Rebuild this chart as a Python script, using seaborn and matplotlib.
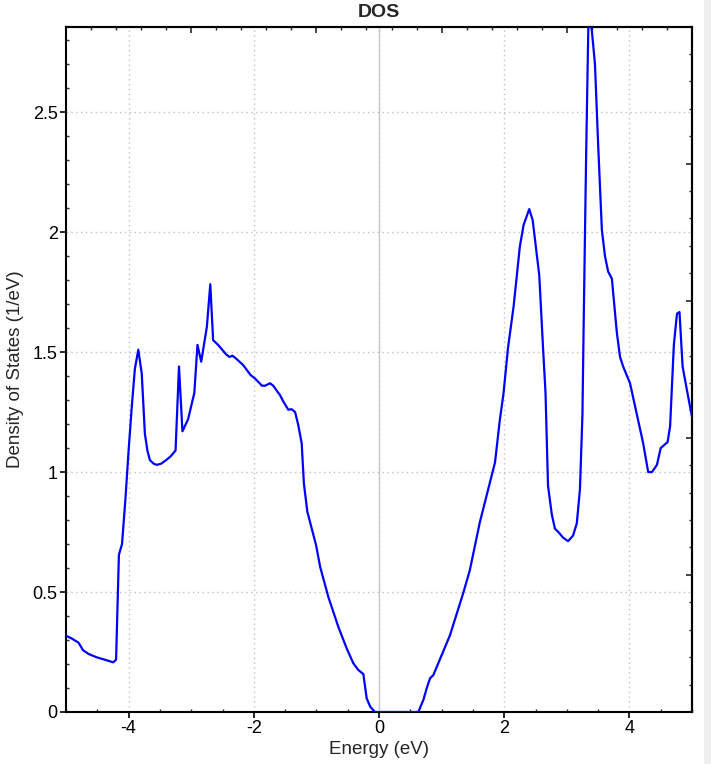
import numpy as np
import pandas as pd
import matplotlib
matplotlib.use("Agg")
import matplotlib.pyplot as plt
from matplotlib.ticker import MultipleLocator, NullFormatter
from matplotlib.patches import Rectangle
import seaborn as sns

# ---- data ----
energy = [-5.00, -4.90, -4.80, -4.76, -4.73, -4.64, -4.51, -4.38, -4.245, -4.20,
          -4.155, -4.105, -4.05, -4.00, -3.95, -3.90, -3.845, -3.79, -3.74, -3.70,
          -3.66, -3.60, -3.55, -3.48, -3.40, -3.33, -3.25, -3.195, -3.14, -3.05,
          -2.95, -2.90, -2.84, -2.75, -2.695, -2.65, -2.57, -2.44, -2.39, -2.34,
          -2.27, -2.17, -2.05, -1.98, -1.87, -1.82, -1.74, -1.69, -1.58, -1.53,
          -1.45, -1.395, -1.34, -1.29, -1.235, -1.20, -1.145, -1.06, -1.006, -0.94,
          -0.81, -0.65, -0.516, -0.41, -0.33, -0.25, -0.197, -0.14, -0.065, 0.628,
          0.708, 0.762, 0.815, 0.868, 1.134, 1.347, 1.45, 1.61, 1.746, 1.853,
          1.93, 1.99, 2.06, 2.15, 2.25, 2.31, 2.40, 2.455, 2.56, 2.62,
          2.66, 2.70, 2.76, 2.81, 2.865, 2.94, 3.02, 3.10, 3.16, 3.21,
          3.25, 3.27, 3.31, 3.345, 3.37, 3.40, 3.45, 3.50, 3.56, 3.61,
          3.66, 3.72, 3.80, 3.85, 3.90, 4.01, 4.12, 4.22, 4.30, 4.36,
          4.44, 4.50, 4.61, 4.65, 4.71, 4.76, 4.80, 4.85, 4.92, 5.00]
dos = [0.318, 0.305, 0.289, 0.272, 0.258, 0.242, 0.228, 0.218, 0.207, 0.218,
       0.655, 0.70, 0.89, 1.09, 1.27, 1.43, 1.51, 1.41, 1.16, 1.09,
       1.05, 1.035, 1.03, 1.035, 1.05, 1.065, 1.09, 1.44, 1.17, 1.22,
       1.33, 1.53, 1.46, 1.605, 1.783, 1.55, 1.53, 1.49, 1.48, 1.485,
       1.47, 1.446, 1.404, 1.39, 1.36, 1.36, 1.37, 1.36, 1.32, 1.295,
       1.26, 1.262, 1.25, 1.196, 1.12, 0.953, 0.835, 0.75, 0.696, 0.605,
       0.48, 0.355, 0.265, 0.203, 0.175, 0.158, 0.057, 0.022, 0.0, 0.0,
       0.05, 0.099, 0.14, 0.154, 0.32, 0.497, 0.59, 0.79, 0.93, 1.04,
       1.217, 1.33, 1.516, 1.69, 1.94, 2.03, 2.096, 2.05, 1.82, 1.52,
       1.33, 0.943, 0.824, 0.764, 0.75, 0.727, 0.712, 0.735, 0.787, 0.928,
       1.24, 1.63, 2.34, 2.87, 2.88, 2.84, 2.70, 2.37, 2.01, 1.90,
       1.836, 1.806, 1.58, 1.48, 1.44, 1.37, 1.24, 1.12, 1.0, 1.0,
       1.03, 1.10, 1.125, 1.19, 1.53, 1.66, 1.667, 1.44, 1.34, 1.23]

xtick_vals = [-4, -2, 0, 2, 4]
xtick_labels = ["-4", "-2", "0", "2", "4"]
ytick_vals = [0, 0.5, 1, 1.5, 2, 2.5]
ytick_labels = ["0", "0.5", "1", "1.5", "2", "2.5"]

title = "DOS"
xlabel = "Energy (eV)"
ylabel = "Density of States (1/eV)"

df = pd.DataFrame({"Energy": energy, "DOS": dos})

sns.set_style("white")
plt.rcParams["font.family"] = ["Liberation Sans", "DejaVu Sans"]
plt.rcParams["axes.unicode_minus"] = False

fig = plt.figure(figsize=(7.11, 7.64), dpi=100)
ax = fig.add_axes([66 / 711, 1 - 712 / 764, (692 - 66) / 711, (712 - 27) / 764])

# grey strip at the right edge of the image
fig.patches.append(Rectangle((704 / 711, 0), 1, 1, transform=fig.transFigure,
                             facecolor="#f0f0f0", edgecolor="none", zorder=-10))

ax.axvline(0, color="#c8c8c8", lw=1.0, zorder=1)
sns.lineplot(data=df, x="Energy", y="DOS", ax=ax, sort=False, estimator=None,
             color="#0000ff", lw=1.6, zorder=3)

ax.set_xlim(-5, 5)
ax.set_ylim(0, 2.855)

ax.set_xticks(xtick_vals)
ax.set_xticklabels(xtick_labels)
ax.set_yticks(ytick_vals)
ax.set_yticklabels(ytick_labels)
ax.xaxis.set_minor_locator(MultipleLocator(0.5))
ax.yaxis.set_minor_locator(MultipleLocator(0.1))

ax.grid(True, which="major", linestyle=(0, (1, 2.5)), color="#c0c0c0", lw=1.0)
ax.set_axisbelow(True)

ax.tick_params(which="major", direction="out", length=4, width=1.2, labelsize=13,
               colors="black", bottom=True, left=True, top=False, right=False, pad=2)
ax.tick_params(which="minor", direction="in", length=2, width=1.0,
               bottom=True, left=True, top=False, right=False)

for s in ax.spines.values():
    s.set_color("black")
    s.set_linewidth(1.5)

# top and right secondary scales (ticks only, no labels)
secx = ax.secondary_xaxis("top", functions=(lambda x: (x + 1) / 2, lambda t: 2 * t - 1))
secx.xaxis.set_major_locator(MultipleLocator(1))
secx.xaxis.set_minor_locator(MultipleLocator(0.2))
secx.xaxis.set_major_formatter(NullFormatter())
secx.tick_params(which="major", direction="in", length=4, width=1.2)
secx.tick_params(which="minor", direction="in", length=2, width=1.0)
secx.spines["top"].set_linewidth(1.5)

secy = ax.secondary_yaxis("right", functions=(lambda y: y * 1.75, lambda t: t / 1.75))
secy.yaxis.set_major_locator(MultipleLocator(1))
secy.yaxis.set_minor_locator(MultipleLocator(0.2))
secy.yaxis.set_major_formatter(NullFormatter())
secy.tick_params(which="major", direction="in", length=4, width=1.2)
secy.tick_params(which="minor", direction="in", length=2, width=1.0)
secy.spines["right"].set_linewidth(1.5)

ax.set_title(title, fontsize=14, fontweight="bold", pad=7)
ax.set_xlabel(xlabel, fontsize=13.5, labelpad=3)
ax.set_ylabel(ylabel, fontsize=13.5, labelpad=6)

fig.savefig("out.png", dpi=100)
